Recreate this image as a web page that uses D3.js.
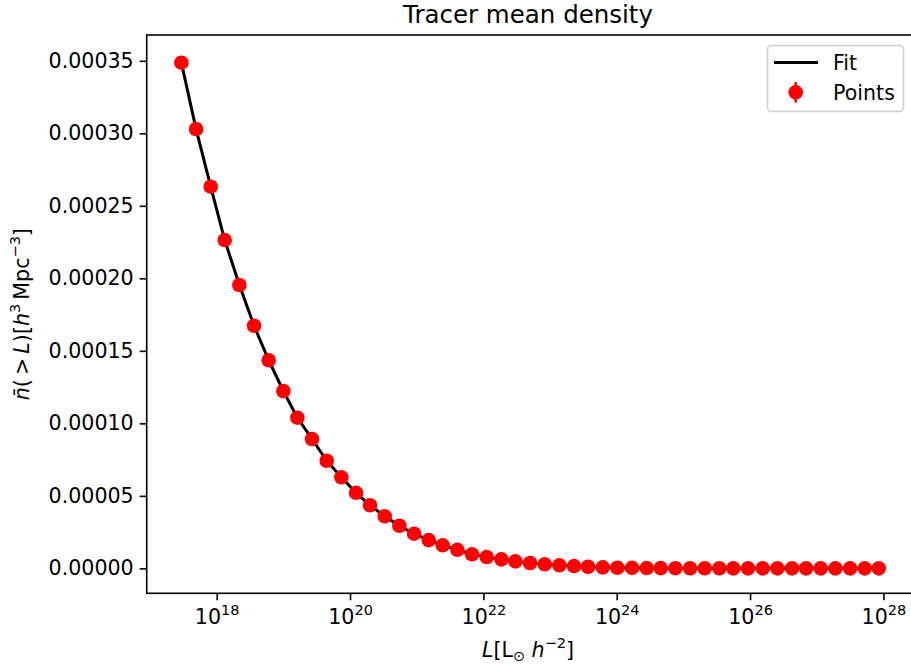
<!DOCTYPE html>
<html>
<head>
<meta charset="utf-8">
<script src="https://cdn.jsdelivr.net/npm/d3@7"></script>
<style>
  body { margin: 0; background: #fff; }
  text { font-family: "DejaVu Sans", sans-serif; fill: #000; }
</style>
</head>
<body>
<script>
// log10 of luminosity for each point
var logL = [17.47, 17.69, 17.91, 18.12, 18.34, 18.56, 18.78, 19.00, 19.21, 19.43,
            19.65, 19.87, 20.09, 20.30, 20.52, 20.74, 20.96, 21.18, 21.39, 21.61,
            21.83, 22.05, 22.27, 22.48, 22.70, 22.92, 23.14, 23.36, 23.57, 23.79,
            24.01, 24.23, 24.45, 24.66, 24.88, 25.10, 25.32, 25.54, 25.75, 25.97,
            26.19, 26.41, 26.63, 26.84, 27.06, 27.28, 27.50, 27.72, 27.93];

// mean density n(>L)
var nbar = [3.487e-4, 3.030e-4, 2.632e-4, 2.264e-4, 1.954e-4, 1.673e-4, 1.435e-4, 1.223e-4, 1.039e-4, 8.92e-5,
            7.42e-5, 6.28e-5, 5.21e-5, 4.35e-5, 3.59e-5, 2.94e-5, 2.39e-5, 1.95e-5, 1.59e-5, 1.28e-5,
            9.7e-6, 7.8e-6, 6.2e-6, 4.8e-6, 3.7e-6, 2.8e-6, 2.1e-6, 1.6e-6, 1.1e-6, 7e-7,
            4e-7, 3e-7, 2e-7, 1.5e-7, 1e-7, 7e-8, 5e-8, 3e-8, 2e-8, 1.5e-8,
            1e-8, 7e-9, 5e-9, 3e-9, 2e-9, 1.5e-9, 1e-9, 7e-10, 5e-10];

var xTickExp = [18, 20, 22, 24, 26, 28];
var yTicks = [0, 0.00005, 0.0001, 0.00015, 0.0002, 0.00025, 0.0003, 0.00035];
var legendLabels = ["Fit", "Points"];

var w = 911, h = 668;
// plot area (right spine falls just off the page)
var pLeft = 146.7, pRight = 913.4, pTop = 35, pBottom = 593.3;

var svg = d3.select("body").append("svg")
    .attr("width", w)
    .attr("height", h);

var data = logL.map(function(e, i){
    return { L: Math.pow(10, e), n: nbar[i] };
});

// Scales (matplotlib-like 5% margins)
var x = d3.scaleLog()
    .domain([Math.pow(10, 16.95), Math.pow(10, 28.45)])
    .range([pLeft, pRight]);

var y = d3.scaleLinear()
    .domain([-1.72e-5, 3.678e-4])
    .range([pBottom, pTop]);

// Fit line
var line = d3.line()
    .x(function(d){ return x(d.L); })
    .y(function(d){ return y(d.n); });

svg.append("path")
    .datum(data)
    .attr("d", line)
    .attr("fill", "none")
    .attr("stroke", "#000")
    .attr("stroke-width", 3)
    .attr("stroke-linejoin", "round");

// Points
svg.selectAll(".pt")
    .data(data)
    .enter()
    .append("circle")
    .attr("class", "pt")
    .attr("cx", function(d){ return x(d.L); })
    .attr("cy", function(d){ return y(d.n); })
    .attr("r", 7.3)
    .attr("fill", "#ff0000");

// Frame
svg.append("rect")
    .attr("x", pLeft)
    .attr("y", pTop)
    .attr("width", pRight - pLeft)
    .attr("height", pBottom - pTop)
    .attr("fill", "none")
    .attr("stroke", "#000")
    .attr("stroke-width", 1.6);

// X axis
var xAxis = d3.axisBottom(x)
    .tickValues(xTickExp.map(function(e){ return Math.pow(10, e); }))
    .tickSize(7)
    .tickFormat("");

var gx = svg.append("g")
    .attr("transform", "translate(0," + pBottom + ")")
    .call(xAxis);
gx.select(".domain").remove();
gx.selectAll(".tick line").attr("stroke-width", 1.6);

var xLab = gx.selectAll(".tick").append("text")
    .attr("y", 31)
    .attr("text-anchor", "middle")
    .style("font-size", "20.6px")
    .attr("fill", "#000");
xLab.append("tspan").text("10");
xLab.append("tspan")
    .attr("dy", -9)
    .style("font-size", "14.5px")
    .text(function(d, i){ return xTickExp[i]; });

// Y axis
var yAxis = d3.axisLeft(y)
    .tickValues(yTicks)
    .tickSize(7)
    .tickPadding(6)
    .tickFormat(d3.format(".5f"));

var gy = svg.append("g")
    .attr("transform", "translate(" + pLeft + ",0)")
    .call(yAxis);
gy.select(".domain").remove();
gy.selectAll(".tick line").attr("stroke-width", 1.6);
gy.selectAll(".tick text")
    .style("font-size", "20.6px")
    .attr("fill", "#000");

// Title
svg.append("text")
    .attr("x", 528)
    .attr("y", 23)
    .attr("text-anchor", "middle")
    .style("font-size", "24.5px")
    .text("Tracer mean density");

// X label
var xl = svg.append("text")
    .attr("x", 528)
    .attr("y", 657)
    .attr("text-anchor", "middle")
    .style("font-size", "20.6px");
xl.append("tspan").style("font-style", "italic").text("L");
xl.append("tspan").text("[L");
xl.append("tspan").attr("dy", 4).style("font-size", "14.5px").text("\u2299");
xl.append("tspan").attr("dy", -4).text(" ");
xl.append("tspan").style("font-style", "italic").text("h");
xl.append("tspan").attr("dy", -9).style("font-size", "14.5px").text("\u22122");
xl.append("tspan").attr("dy", 9).text("]");

// Y label
var yl = svg.append("text")
    .attr("transform", "translate(29," + ((pTop + pBottom) / 2) + ") rotate(-90)")
    .attr("text-anchor", "middle")
    .style("font-size", "20.6px");
yl.append("tspan").style("font-style", "italic").text("n\u0304");
yl.append("tspan").text("(\u2009>\u2009");
yl.append("tspan").style("font-style", "italic").text("L");
yl.append("tspan").text(")[");
yl.append("tspan").style("font-style", "italic").text("h");
yl.append("tspan").attr("dy", -9).style("font-size", "14.5px").text("3");
yl.append("tspan").attr("dy", 9).text("\u2009Mpc");
yl.append("tspan").attr("dy", -9).style("font-size", "14.5px").text("\u22123");
yl.append("tspan").attr("dy", 9).text("]");

// Legend
var lg = svg.append("g");
lg.append("rect")
    .attr("x", 767.5)
    .attr("y", 45.5)
    .attr("width", 136)
    .attr("height", 66)
    .attr("rx", 4)
    .attr("fill", "#fff")
    .attr("fill-opacity", 0.8)
    .attr("stroke", "#d0d0d0")
    .attr("stroke-width", 1.6);

lg.append("line")
    .attr("x1", 774).attr("x2", 818)
    .attr("y1", 62.5).attr("y2", 62.5)
    .attr("stroke", "#000")
    .attr("stroke-width", 3);

lg.append("line")
    .attr("x1", 795.7).attr("x2", 795.7)
    .attr("y1", 82).attr("y2", 102.5)
    .attr("stroke", "#ff0000")
    .attr("stroke-width", 2.5);
lg.append("circle")
    .attr("cx", 795.7)
    .attr("cy", 92.3)
    .attr("r", 7.3)
    .attr("fill", "#ff0000");

lg.selectAll(".lgText")
    .data(legendLabels)
    .enter()
    .append("text")
    .attr("class", "lgText")
    .attr("x", 833)
    .attr("y", function(d, i){ return 69.5 + i * 30; })
    .style("font-size", "20.6px")
    .text(function(d){ return d; });
</script>
</body>
</html>
